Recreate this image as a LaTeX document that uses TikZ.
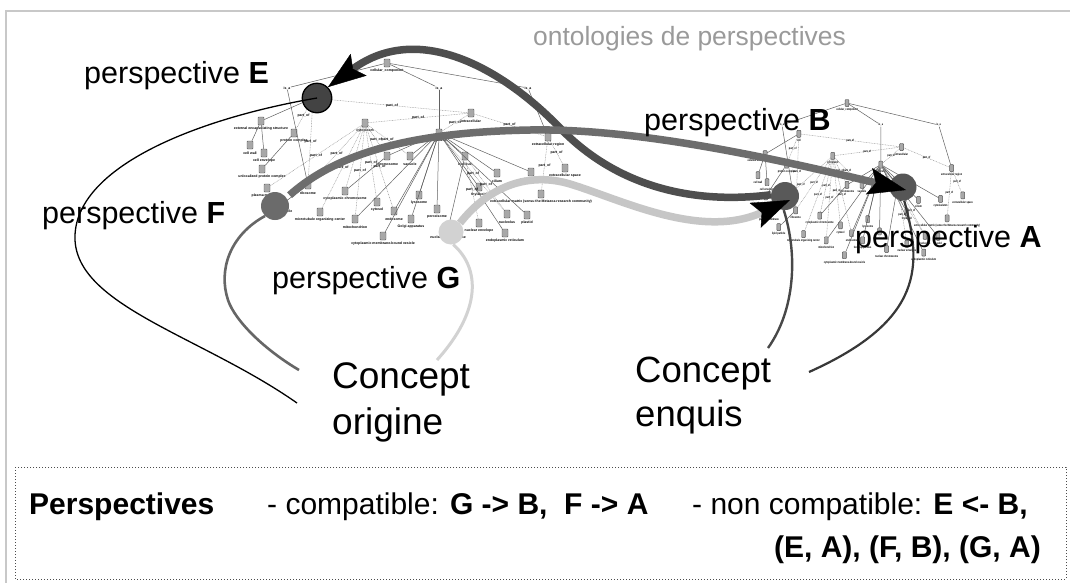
\documentclass[tikz,border=0pt]{standalone}
\usepackage{fontspec}
\setmainfont{Liberation Sans}
\usetikzlibrary{arrows.meta}
\definecolor{cE}{HTML}{434343}
\definecolor{cF}{HTML}{6B6B6B}
\definecolor{cG}{HTML}{D2D2D2}
\definecolor{cB}{HTML}{595959}
\definecolor{cA}{HTML}{565656}
\definecolor{cEB}{HTML}{4E4E4E}
\definecolor{cFA}{HTML}{6D6D6D}
\definecolor{cGB}{HTML}{C6C6C6}
\definecolor{titlegray}{HTML}{9A9A9A}
\definecolor{framegray}{HTML}{C8C8C8}
\definecolor{ogfill}{HTML}{A8A8A8}
\definecolor{ogedge}{HTML}{555555}

\newcommand\ontograph[1]{%
\foreach \oN/\oX/\oY/\oT in {%
 cell/313/98/cell,
 cc/387/63/cellular\_component,
 intra/471/113/intracellular,
 cyto/365/123/cytoplasm,
 org/439/133/organelle,
 extreg/548/137/extracellular region,
 extsp/565/168/extracellular space,
 ecm/541/194/extracellular matrix (sensu the Metazoa research community),
 extenc/261/121/external encapsulating structure,
 pcomp/294/133/protein complex,
 cwall/250/145/cell wall,
 cenv/264/153/cell envelope,
 unloc/262/169/unlocalized protein complex,
 plasma/267/188/plasma membrane,
 lipid/282/204/lipid particle,
 ribo/308/185/ribosome,
 cchrom/345/191/cytoplasmic chromosome,
 mtoc/320/212/microtubule organizing center,
 mito/355/219/mitochondrion,
 cytosol/377/202/cytosol,
 vesic/383/236/cytoplasmic membrane-bound vesicle,
 chrom/387/156/chromosome,
 vac/410/156/vacuole,
 endo/394/211/endosome,
 golgi/411/219/Golgi apparatus,
 lyso/419/195/lysosome,
 perox/437/209/peroxisome,
 nucl/465/156/nucleus,
 thyl/479/187/thylakoid,
 cilium/497/173/cilium,
 nucenv/479/223/nuclear envelope,
 nchrom/448/229/nuclear chromosome,
 er/505/233/endoplasmic reticulum,
 nucleolus/507/214/nucleolus,
 plastid/527/215/plastid,
 cskel/531/172/cytoskeleton%
}{\node[obox] (#1\oN) at (\oX,\oY) {}; \node[olab] at (\oX,\oY+8) {\oT};}
\foreach \oN/\oX/\oY in {p1/287/88, p2/439/88, p3/528/88}{\node[olab] (#1\oN) at (\oX,\oY) {is\_a};}
\foreach \oA/\oB in {cc/p1, cc/p2, cc/p3, p1/ribo, p2/org, p3/extreg, cell/extenc, extenc/cwall, extenc/cenv, pcomp/unloc, org/chrom, org/vac, org/nucl, org/cilium, org/thyl, org/lyso, org/perox, org/endo, org/golgi, org/mito, org/plastid, org/er, org/vesic, org/cskel, chrom/cchrom, nucl/nchrom, ribo/lipid}
 {\draw[isa] (#1\oA) -- (#1\oB);}
\foreach \oA/\oB in {cell/intra, cell/ribo, cell/pcomp, intra/cyto, intra/org, intra/extreg, cyto/chrom, cyto/vac, cyto/cchrom, cyto/ribo, cyto/cytosol, cyto/mtoc, cyto/mito, cyto/plasma, cyto/endo, extreg/extsp, extreg/ecm, nucl/nucleolus, nucl/nucenv, org/nucleolus}
 {\draw[partof] (#1\oA) -- node[olab]{part\_of} (#1\oB);}
}

\begin{document}
\begin{tikzpicture}[x=1pt,y=-1pt,
  obox/.style={draw=ogedge, fill=ogfill, rounded corners=0.8pt, minimum width=6pt, minimum height=8pt, inner sep=0pt, line width=0.45pt},
  olab/.style={font=\fontsize{3.5}{3.8}\selectfont\bfseries, text=black, inner sep=0.3pt},
  isa/.style={draw=black!62, line width=0.5pt},
  partof/.style={draw=black!42, line width=0.45pt, dash pattern=on 0.8pt off 0.8pt},
  pnode/.style={circle, inner sep=0pt},
  ptext/.style={font=\fontsize{30.5}{36}\selectfont, anchor=base west, inner sep=0pt},
  btext/.style={font=\fontsize{30}{36}\selectfont, inner sep=0pt},
  bigtip/.style={-{Stealth[length=38pt,width=27pt,inset=7pt,color=black,line width=0.4pt]}},
  thick curve/.style={line width=7.5pt}]
\useasboundingbox (0,0) rectangle (1070,582);
\fill[white] (0,0) rectangle (1070,582);
\draw[framegray, line width=1.5pt] (6,600) -- (6,11) -- (1080,11);

% ontology graphs
\ontograph{L}
\begin{scope}[shift={(847,103)}, xscale=0.65, yscale=0.88, shift={(-387,-63)}, transform shape]
\ontograph{R}
\end{scope}

% perspective nodes
\node[pnode, minimum size=29.5pt, fill=cE, draw=black, line width=1.3pt] (E) at (317,98) {};
\node[pnode, minimum size=28pt, fill=cF] (F) at (275,206) {};
\node[pnode, minimum size=25pt, fill=cG] (G) at (451,232) {};
\node[pnode, minimum size=28pt, fill=cB] (B) at (785,196) {};
\node[pnode, minimum size=27pt, fill=cA] (A) at (903,187) {};

% free ends near concept labels
\coordinate (oE) at (297,403);
\coordinate (oF) at (299,370);
\coordinate (oG) at (437,360);
\coordinate (eB) at (768,348);
\coordinate (eA) at (809,372);

% thin lines to concepts
\draw[black, line width=1.3pt] (E.center) .. controls (200,118) and (78,165) .. (75,235) .. controls (72,305) and (200,335) .. (oE);
\draw[draw=cF!95!black, line width=2.6pt] (F.225) .. controls (230,235) and (218,270) .. (228,300) .. controls (235,321) and (265,350) .. (oF);
\draw[draw=cG, line width=3pt] (G.280) .. controls (480,268) and (482,310) .. (oG);
\draw[draw=cB!110!white, line width=2.4pt] (B.265) .. controls (798,255) and (795,310) .. (eB);
\draw[draw=black!78, line width=2.2pt] (A.275) .. controls (922,265) and (925,320) .. (eA);

% thick perspective links
\draw[thick curve, draw=cEB, bigtip] (B.175) .. controls (690,205) and (615,185) .. (560,128) .. controls (505,71) and (420,20) .. (E.45);
\draw[thick curve, draw=cFA, bigtip, shorten <=4pt] (F.35) .. controls (340,150) and (420,132) .. (530,130) .. controls (640,128) and (780,160) .. ([xshift=3pt,yshift=-3pt]A.center);
\draw[thick curve, draw=cGB, bigtip] (G.45) .. controls (490,185) and (530,172) .. (570,184) .. controls (620,199) and (700,240) .. ([xshift=5pt,yshift=-4pt]B.center);

% labels
\node[font=\fontsize{26.4}{30}\selectfont, text=titlegray, anchor=base west, inner sep=0pt] (title) at (533,45) {ontologies de perspectives};
\node[ptext] (lE) at (84,83) {perspective \textbf{E}};
\node[ptext] (lF) at (42,223) {perspective \textbf{F}};
\node[ptext] (lG) at (272,288) {perspective \textbf{G}};
\node[ptext] (lB) at (644,130) {perspective \textbf{B}};
\node[ptext] (lA) at (855,247) {perspective \textbf{A}};

\node[font=\fontsize{37}{46}\selectfont, align=left, anchor=north west, inner sep=0pt] (orig) at (332,362) {Concept\\origine};
\node[font=\fontsize{36.5}{44}\selectfont, align=left, anchor=north west, inner sep=0pt] (enq) at (635,357) {Concept\\enquis};

% legend box
\draw[draw=black!70, line width=1pt, dash pattern=on 1pt off 2pt] (15,467) rectangle (1066,579);
\node[btext, anchor=base west] (lp) at (29,514) {\textbf{Perspectives}};
\node[btext, anchor=base west] (lc) at (267,514) {- compatible: \textbf{G -> B,}\ \ \textbf{F -> A}};
\node[btext, anchor=base west] (ln) at (692,514) {- non compatible: \textbf{E <- B,}};
\node[btext, anchor=base east] (ln2) at (1041,557) {\textbf{(E, A), (F, B), (G, A)}};
\end{tikzpicture}
\end{document}
